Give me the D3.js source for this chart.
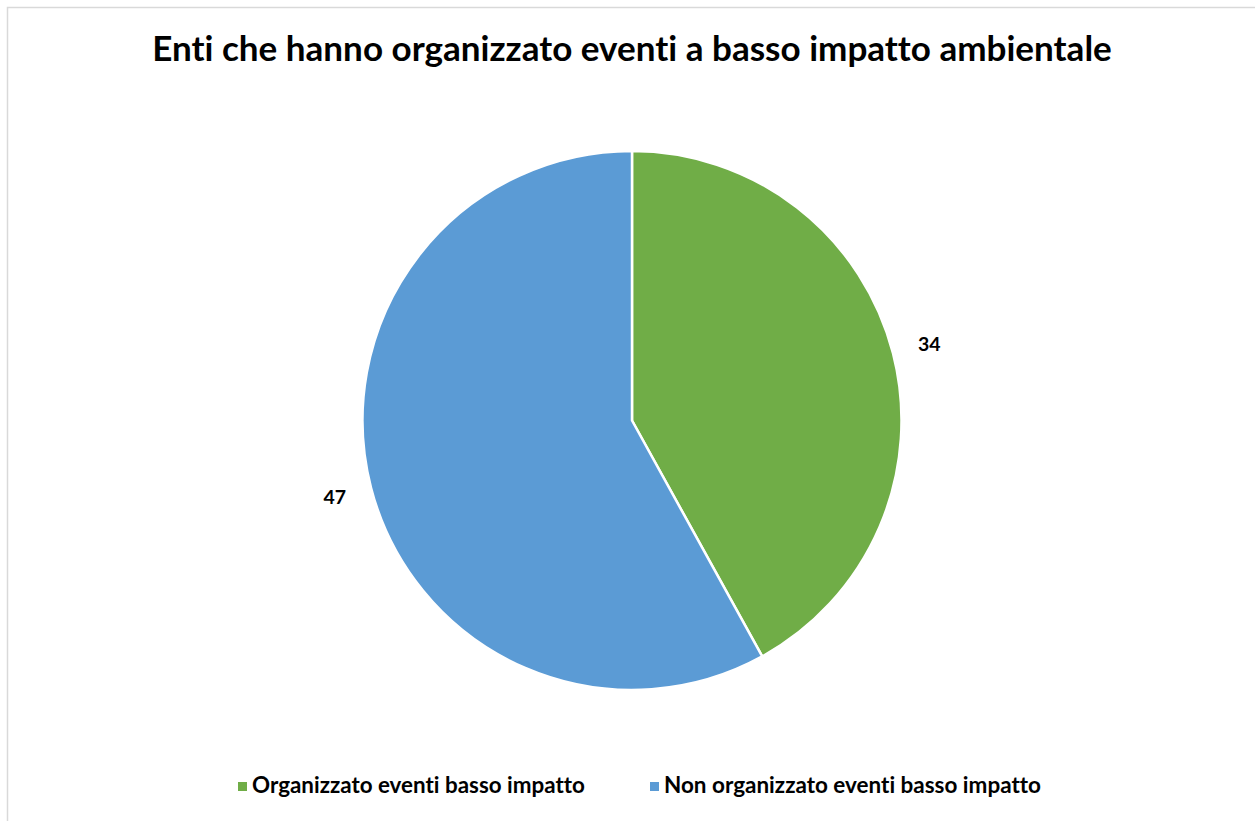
<!DOCTYPE html>
<html><head><meta charset="utf-8">
<script src="https://cdn.jsdelivr.net/npm/d3@7"></script>
<style>html,body{margin:0;padding:0;background:#fff;overflow:hidden}
text{font-variant-ligatures:none;font-feature-settings:"liga" 0,"clig" 0}</style>
</head><body>
<svg id="chart" width="1255" height="821"></svg>
<script>
const title = "Enti che hanno organizzato eventi a basso impatto ambientale";
const categories = ["Organizzato eventi basso impatto", "Non organizzato eventi basso impatto"];
const values = [34, 47];
const colors = ["#70AD47", "#5B9BD5"];

const svg = d3.select("#chart");
const W = 1255, H = 821;
const FONT = "Lato, 'Open Sans', sans-serif";

svg.append("rect").attr("x", 7.5).attr("y", 7.5).attr("width", W + 10).attr("height", H + 10)
  .attr("fill", "#fff").attr("stroke", "#D9D9D9").attr("stroke-width", 1.5);

function fitText(sel, targetW) {
  const w = sel.node().getComputedTextLength();
  const fs = parseFloat(sel.attr("font-size"));
  sel.attr("font-size", fs * targetW / w);
}

const t = svg.append("text").attr("x", 632).attr("y", 61).attr("text-anchor", "middle")
  .attr("font-family", FONT).attr("font-weight", "bold").attr("font-size", 30).attr("fill", "#000").text(title);
fitText(t, 960);

const cx = 632, cy = 420.5, r = 269.5;
const pie = d3.pie().sort(null).value(d => d)(values);
const arc = d3.arc().innerRadius(0).outerRadius(r);
const g = svg.append("g").attr("transform", `translate(${cx},${cy})`);
g.selectAll("path").data(pie).join("path")
  .attr("d", arc).attr("fill", (d, i) => colors[i])
  .attr("stroke", "#fff").attr("stroke-width", 2.5).attr("stroke-linejoin", "round");

const labelArc = d3.arc().innerRadius(307).outerRadius(307);
g.selectAll("text.lbl").data(pie).join("text").attr("class", "lbl")
  .attr("transform", d => `translate(${labelArc.centroid(d)})`)
  .attr("text-anchor", "middle").attr("dy", "0.36em")
  .attr("font-family", FONT).attr("font-weight", "bold").attr("font-size", 19.5).attr("fill", "#000")
  .text(d => d.data);

const legX = [238, 650], legTextW = [333, 377];
const lg = svg.append("g");
categories.forEach((c, i) => {
  lg.append("rect").attr("x", legX[i]).attr("y", 782).attr("width", 9).attr("height", 9).attr("fill", colors[i]);
  const lt = lg.append("text").attr("x", legX[i] + 14).attr("y", 793)
    .attr("font-family", FONT).attr("font-weight", "bold").attr("font-size", 18).attr("fill", "#000").text(c);
  fitText(lt, legTextW[i]);
});
</script>
</body></html>
